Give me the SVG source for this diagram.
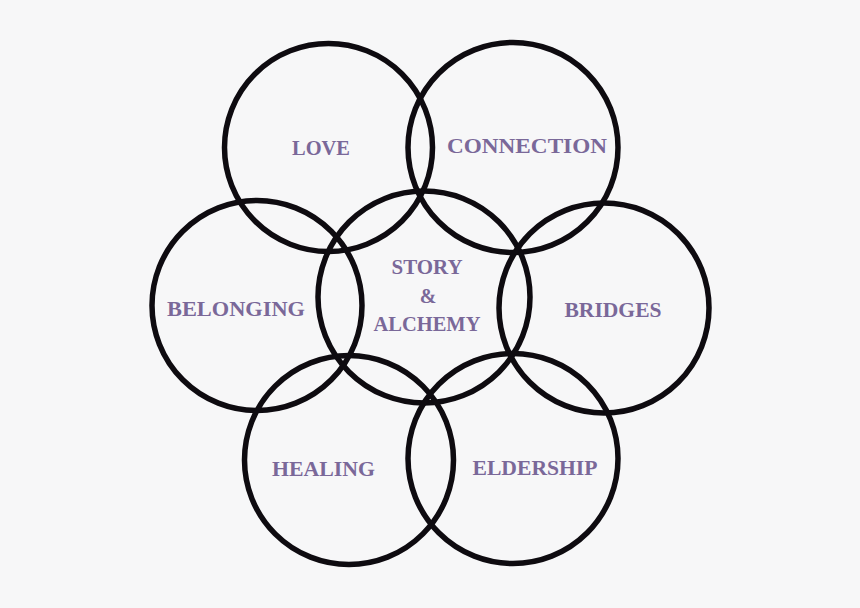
<svg xmlns="http://www.w3.org/2000/svg" width="860" height="608" viewBox="0 0 860 608">
<style>
.ring{fill:none;stroke:#0e0b10;stroke-width:5.5}
.lbl{font-family:"Liberation Serif","DejaVu Serif",serif;font-weight:bold;fill:#7a6899;text-anchor:middle}
.big{font-size:22px}
.mid{font-size:20px}
</style>
<rect width="860" height="608" fill="#f7f7f8"/>
<g id="love"><circle class="ring" cx="328.5" cy="147.5" r="104"/><text class="lbl big" x="321" y="155" textLength="58" lengthAdjust="spacingAndGlyphs">LOVE</text></g>
<g id="connection"><circle class="ring" cx="513" cy="147.5" r="105"/><text class="lbl big" x="527" y="153" textLength="160" lengthAdjust="spacingAndGlyphs">CONNECTION</text></g>
<g id="belonging"><circle class="ring" cx="257" cy="305.5" r="105"/><text class="lbl big" x="236" y="316" textLength="138" lengthAdjust="spacingAndGlyphs">BELONGING</text></g>
<g id="story"><circle class="ring" cx="424" cy="297" r="106"/>
<text class="lbl mid" x="427" y="273.5" textLength="71" lengthAdjust="spacingAndGlyphs">STORY</text>
<text class="lbl mid" x="428" y="303">&amp;</text>
<text class="lbl mid" x="427" y="331" textLength="107" lengthAdjust="spacingAndGlyphs">ALCHEMY</text></g>
<g id="bridges"><circle class="ring" cx="604" cy="308" r="105"/><text class="lbl big" x="613" y="317" textLength="97" lengthAdjust="spacingAndGlyphs">BRIDGES</text></g>
<g id="healing"><circle class="ring" cx="349" cy="460" r="104.5"/><text class="lbl big" x="323.5" y="476" textLength="103" lengthAdjust="spacingAndGlyphs">HEALING</text></g>
<g id="eldership"><circle class="ring" cx="513" cy="458.5" r="105"/><text class="lbl big" x="535" y="475" textLength="125" lengthAdjust="spacingAndGlyphs">ELDERSHIP</text></g>
</svg>
